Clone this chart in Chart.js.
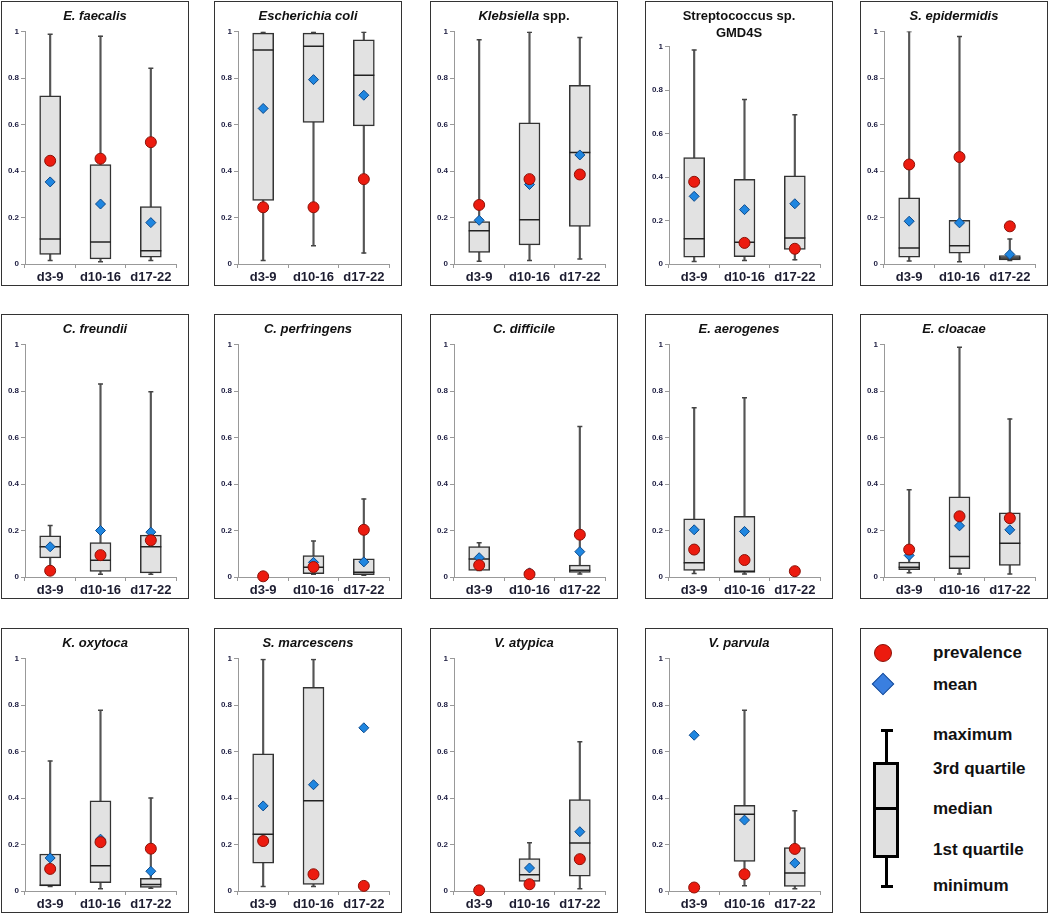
<!DOCTYPE html>
<html>
<head>
<meta charset="utf-8">
<script src="https://cdn.jsdelivr.net/npm/chart.js@4"></script>
<style>
  body { margin: 0; background: #fff; width: 1050px; height: 913px; position: relative; overflow: hidden;
         font-family: "Liberation Sans", Arial, sans-serif; }
  .panel { position: absolute; width: 188px; height: 285px; border: 1.5px solid #333; box-sizing: border-box; background: #fff; }
  .wrap { position: absolute; left: 0; top: 0; right: 0; bottom: 0; }
  .title { position: absolute; left: 0; right: 0; top: 5px; text-align: center; font-weight: bold; font-size: 13px;
           line-height: 17px; color: #111; white-space: pre-line; z-index: 2; }
  .lg-text { position: absolute; left: 72px; font-weight: bold; font-size: 17px; color: #111; line-height: 20px; margin-top: -10px; white-space: nowrap; }
  .lg { position: absolute; box-sizing: border-box; }
</style>
</head>
<body>
<script>
// categories and tick labels
const categories = ['d3-9', 'd10-16', 'd17-22'];
const yTickLabels = ['0', '0.2', '0.4', '0.6', '0.8', '1'];

// panel titles: [italic part, plain part]
const titles = [
  ['E. faecalis', ''], ['Escherichia coli', ''], ['Klebsiella', ' spp.'], ['', 'Streptococcus sp.\nGMD4S'], ['S. epidermidis', ''],
  ['C. freundii', ''], ['C. perfringens', ''], ['C. difficile', ''], ['E. aerogenes', ''], ['E. cloacae', ''],
  ['K. oxytoca', ''], ['S. marcescens', ''], ['V. atypica', ''], ['V. parvula', '']
];

// box plot statistics, one row per panel, one value per category
const minimum = [
  [0.015, 0.01, 0.015], [0.015, 0.079, 0.047], [0.012, 0.015, 0.022], [0.011, 0.016, 0.019], [0.013, 0.01, 0.015],
  [0.035, 0.012, 0.012], [null, 0.012, 0.008], [0.028, null, 0.013], [0.015, 0.013, null], [0.018, 0.013, 0.013],
  [0.019, 0.01, 0.012], [0.019, 0.019, null], [null, 0.035, 0.01], [null, 0.023, 0.01]
];
const firstQuartile = [
  [0.041, 0.022, 0.029], [0.274, 0.609, 0.594], [0.05, 0.082, 0.162], [0.031, 0.034, 0.067], [0.029, 0.047, 0.018],
  [0.082, 0.024, 0.018], [null, 0.014, 0.01], [0.028, null, 0.02], [0.028, 0.02, null], [0.031, 0.036, 0.05],
  [0.022, 0.036, 0.015], [0.12, 0.028, null], [null, 0.041, 0.064], [null, 0.127, 0.02]
];
const median = [
  [0.108, 0.095, 0.057], [0.92, 0.937, 0.812], [0.143, 0.19, 0.48], [0.116, 0.1, 0.12], [0.069, 0.079, 0.026],
  [0.13, 0.072, 0.13], [null, 0.042, 0.02], [0.077, null, 0.029], [0.061, 0.025, null], [0.042, 0.088, 0.145],
  [0.025, 0.109, 0.028], [0.244, 0.388, null], [null, 0.07, 0.206], [null, 0.33, 0.077]
];
const thirdQuartile = [
  [0.723, 0.428, 0.247], [0.993, 0.993, 0.964], [0.182, 0.607, 0.769], [0.489, 0.389, 0.405], [0.285, 0.188, 0.036],
  [0.177, 0.148, 0.18], [null, 0.092, 0.078], [0.131, null, 0.051], [0.25, 0.261, null], [0.064, 0.345, 0.276],
  [0.159, 0.388, 0.054], [0.59, 0.876, null], [null, 0.139, 0.393], [null, 0.368, 0.187]
];
const maximum = [
  [0.988, 0.98, 0.842], [0.997, 0.997, 0.997], [0.964, 0.997, 0.974], [0.984, 0.756, 0.686], [1.0, 0.978, 0.107],
  [0.222, 0.83, 0.797], [null, 0.155, 0.336], [0.147, null, 0.647], [0.728, 0.771, null], [0.375, 0.988, 0.68],
  [0.559, 0.777, 0.4], [0.996, 0.996, null], [null, 0.207, 0.642], [null, 0.777, 0.345]
];
const meanValues = [
  [0.353, 0.258, 0.178], [0.669, 0.793, 0.726], [0.188, 0.342, 0.469], [0.311, 0.25, 0.277], [0.184, 0.177, 0.041],
  [0.13, 0.2, 0.193], [null, 0.063, 0.065], [0.083, 0.018, 0.109], [0.203, 0.196, null], [0.093, 0.22, 0.203],
  [0.142, 0.223, 0.085], [0.366, 0.457, 0.702], [null, 0.099, 0.255], [0.67, 0.305, 0.12]
];
const prevalence = [
  [0.444, 0.453, 0.524], [0.244, 0.244, 0.365], [0.254, 0.365, 0.385], [0.378, 0.097, 0.07], [0.428, 0.46, 0.162],
  [0.027, 0.094, 0.158], [0.003, 0.043, 0.203], [0.051, 0.012, 0.182], [0.118, 0.073, 0.025], [0.118, 0.261, 0.253],
  [0.095, 0.21, 0.182], [0.215, 0.072, 0.022], [0.003, 0.029, 0.137], [0.015, 0.072, 0.181]
];

// layout of the grid
const colLeft = [1, 214, 430, 645, 860];
const rowTop = [1, 314, 628];

Chart.defaults.font.family = '"Liberation Sans", Arial, sans-serif';

titles.forEach((t, i) => {
  const panel = document.createElement('div');
  panel.className = 'panel';
  panel.style.left = colLeft[i % 5] + 'px';
  panel.style.top = rowTop[Math.floor(i / 5)] + 'px';

  const title = document.createElement('div');
  title.className = 'title';
  if (t[0]) {
    const it = document.createElement('i');
    it.textContent = t[0];
    title.appendChild(it);
  }
  if (t[1]) title.appendChild(document.createTextNode(t[1]));
  panel.appendChild(title);

  const wrap = document.createElement('div');
  wrap.className = 'wrap';
  const canvas = document.createElement('canvas');
  wrap.appendChild(canvas);
  panel.appendChild(wrap);
  document.body.appendChild(panel);

  const boxes = categories.map((c, j) => firstQuartile[i][j] == null ? null : [firstQuartile[i][j], thirdQuartile[i][j]]);
  const whiskers = categories.map((c, j) => minimum[i][j] == null ? null : [minimum[i][j], maximum[i][j]]);
  const twoLine = t[1].includes('\n');

  new Chart(canvas, {
    type: 'bar',
    data: {
      labels: categories,
      datasets: [
        { type: 'line', label: 'prevalence', data: prevalence[i], showLine: false, pointStyle: 'circle', pointRadius: 5.5,
          pointBackgroundColor: '#ec1b0f', pointBorderColor: '#8c1208', pointBorderWidth: 1, order: 1, clip: false },
        { type: 'line', label: 'mean', data: meanValues[i], showLine: false, pointStyle: 'rectRot', pointRadius: 5,
          pointBackgroundColor: '#1f86e0', pointBorderColor: '#0c4a8c', pointBorderWidth: 1, order: 2, clip: false },
        { type: 'line', label: 'median', data: median[i], showLine: false, pointStyle: 'line', pointRadius: 10.5,
          pointBorderColor: '#222', pointBorderWidth: 1.5, order: 3 },
        { label: 'box', data: boxes, grouped: false, barThickness: 21, backgroundColor: '#e2e2e2',
          borderColor: '#333', borderWidth: 1.5, borderSkipped: false, order: 4 },
        { type: 'line', label: 'maximum', data: maximum[i], showLine: false, pointStyle: 'line', pointRadius: 2.5,
          pointBorderColor: '#444', pointBorderWidth: 1.5, order: 5 },
        { type: 'line', label: 'minimum', data: minimum[i], showLine: false, pointStyle: 'line', pointRadius: 2.5,
          pointBorderColor: '#444', pointBorderWidth: 1.5, order: 5 },
        { label: 'whisker', data: whiskers, grouped: false, barThickness: 1.5, backgroundColor: '#555', order: 6 }
      ]
    },
    options: {
      responsive: true,
      maintainAspectRatio: false,
      animation: false,
      layout: { padding: { top: twoLine ? 44.5 : 29.5, right: 3.5, left: 0, bottom: 0 } },
      plugins: { legend: { display: false }, tooltip: { enabled: false } },
      scales: {
        x: {
          grid: { drawOnChartArea: false, drawTicks: true, tickLength: 4, color: '#999', offset: true },
          border: { color: '#999' },
          ticks: { font: { size: 13, weight: 'bold' }, color: '#1c1c30', padding: 2, maxRotation: 0, autoSkip: false },
          afterFit: s => { s.height = 21; }
        },
        y: {
          min: 0, max: 1,
          ticks: { stepSize: 0.2, callback: (v, k) => yTickLabels[k], font: { size: 8, weight: 'bold' }, color: '#1c1c40', padding: 2 },
          grid: { drawOnChartArea: false, tickLength: 4, color: '#999' },
          border: { color: '#999' },
          afterFit: s => { s.width = 23; }
        }
      }
    }
  });
});

// legend panel
const legendItems = [
  ['prevalence', 25], ['mean', 57], ['maximum', 107], ['3rd quartile', 141], ['median', 181], ['1st quartile', 222], ['minimum', 258]
];
const lp = document.createElement('div');
lp.className = 'panel';
lp.style.left = colLeft[4] + 'px';
lp.style.top = rowTop[2] + 'px';
legendItems.forEach(([txt, y]) => {
  const d = document.createElement('div');
  d.className = 'lg-text';
  d.style.top = (y - 1.5) + 'px';
  d.textContent = txt;
  lp.appendChild(d);
});
const shapes = [
  'left:13px;top:15px;width:18px;height:18px;border-radius:50%;background:#ec1b0f;border:1px solid #8c1208;',
  'left:14px;top:47px;width:16px;height:16px;transform:rotate(45deg);background:#3a7fe0;border:1px solid #1c4f99;',
  'left:19.5px;top:100px;width:12px;height:3px;background:#000;',
  'left:24px;top:101px;width:3px;height:34px;background:#000;',
  'left:12px;top:133px;width:26px;height:96px;background:#e0e0e0;border:3px solid #000;',
  'left:12px;top:177.5px;width:26px;height:3px;background:#000;',
  'left:24px;top:228px;width:3px;height:30px;background:#000;',
  'left:19.5px;top:256px;width:12px;height:3px;background:#000;'
];
shapes.forEach(s => {
  const d = document.createElement('div');
  d.className = 'lg';
  d.style.cssText = s;
  lp.appendChild(d);
});
document.body.appendChild(lp);
</script>
</body>
</html>
